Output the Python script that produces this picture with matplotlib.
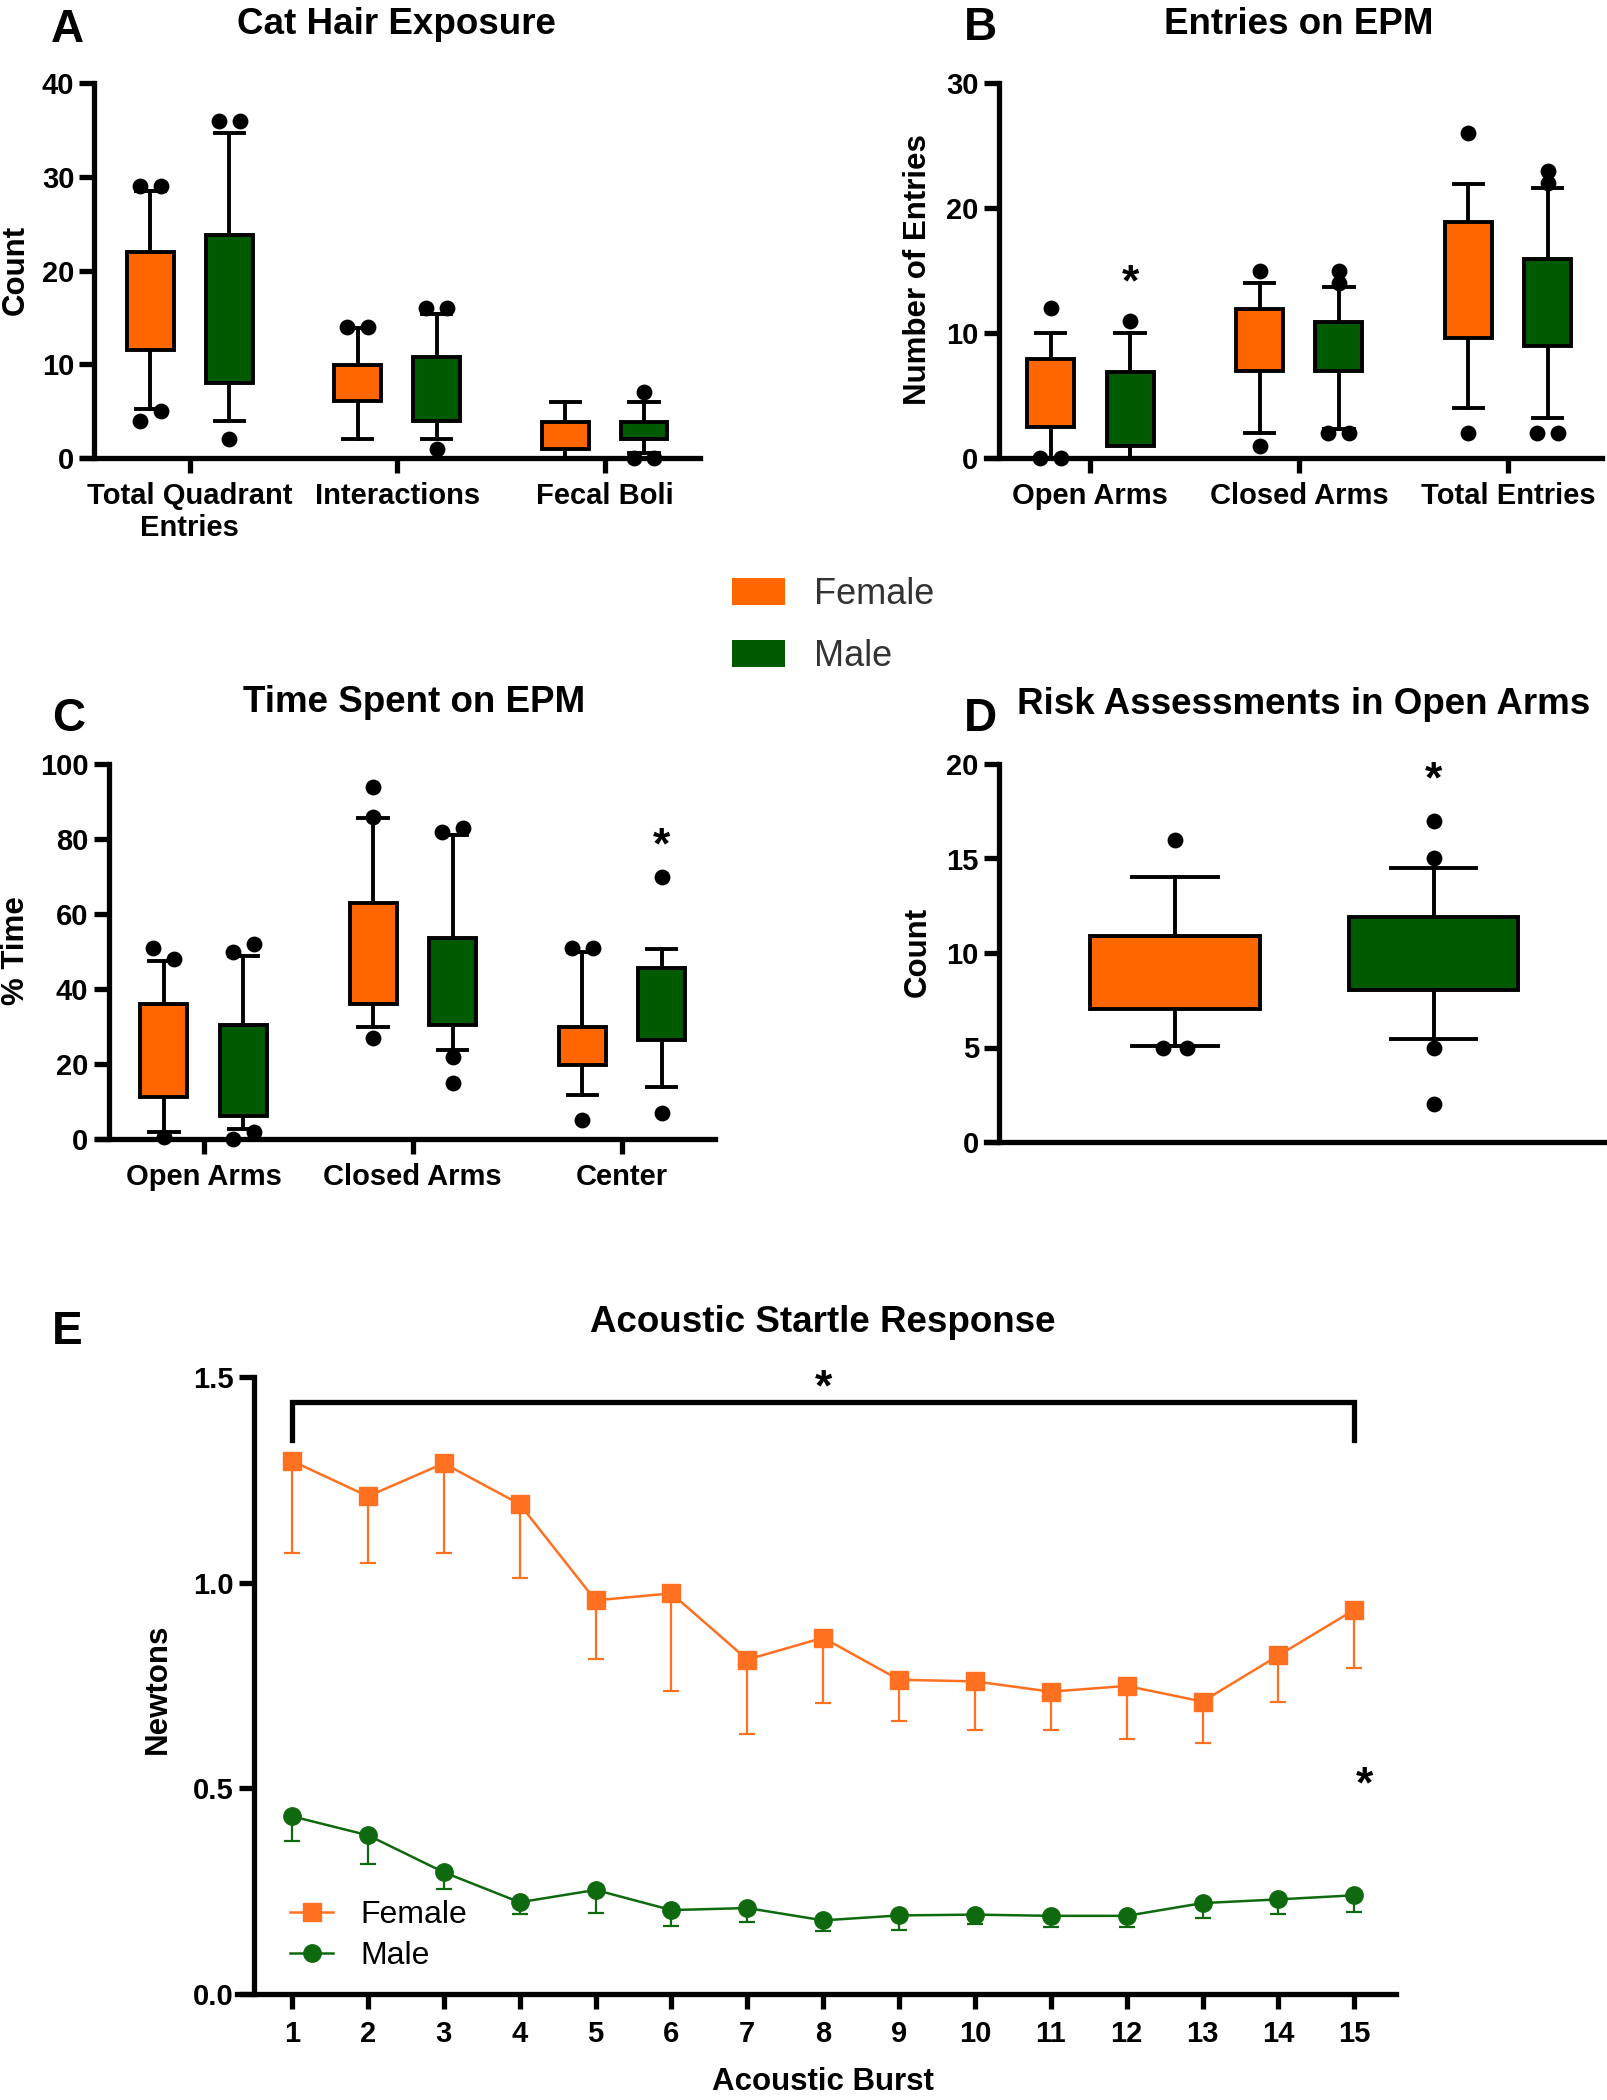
import numpy as np
import matplotlib
matplotlib.use("Agg")
import matplotlib.pyplot as plt
from matplotlib.patches import Patch
from matplotlib.lines import Line2D

plt.rcParams['font.family'] = ['Liberation Sans', 'DejaVu Sans']

ORANGE = "#ff6600"
GREEN = "#005a00"
E_ORANGE = "#ff7020"
E_GREEN = "#0f6a0f"

# box stats are (whisker low, q1, median, q3, whisker high)
# A - cat hair exposure
a_cats = ["Total Quadrant\nEntries", "Interactions", "Fecal Boli"]
a_female_box = [(5.2, 11.5, 18.0, 22.0, 28.5), (2.0, 6.1, 8.0, 9.9, 13.9), (0.0, 1.0, 1.9, 3.8, 6.0)]
a_female_out = [[29, 29, 4, 5], [14, 14], []]
a_male_box = [(3.9, 8.0, 15.0, 23.8, 34.7), (2.0, 4.0, 7.0, 10.8, 15.4), (0.5, 2.0, 3.0, 3.8, 6.0)]
a_male_out = [[36, 36, 2], [16, 16, 1], [7, 0, 0]]

# B - entries on EPM
b_cats = ["Open Arms", "Closed Arms", "Total Entries"]
b_female_box = [(0.0, 2.5, 6.0, 7.9, 10.0), (2.0, 7.0, 9.0, 11.9, 14.0), (4.0, 9.6, 16.0, 18.9, 21.9)]
b_female_out = [[12, 0, 0], [15, 1], [26, 2]]
b_male_box = [(0.0, 1.0, 3.0, 6.9, 10.0), (2.3, 7.0, 10.0, 10.9, 13.7), (3.2, 9.0, 12.0, 15.9, 21.6)]
b_male_out = [[11], [15, 14, 2, 2], [23, 22, 2, 2]]

# C - time spent on EPM
c_cats = ["Open Arms", "Closed Arms", "Center"]
c_female_box = [(2.0, 11.2, 28.0, 36.0, 47.5), (29.8, 36.0, 45.0, 63.0, 85.5), (11.8, 19.8, 24.8, 30.0, 49.9)]
c_female_out = [[51, 48, 0.5], [94, 86, 27], [51, 51, 5]]
c_male_box = [(2.6, 6.1, 15.5, 30.3, 48.9), (23.8, 30.5, 42.4, 53.7, 81.2), (13.8, 26.5, 39.3, 45.6, 50.8)]
c_male_out = [[50, 52, 0, 2], [82, 83, 22, 15], [70, 7]]

# D - risk assessments
d_female_box = (5.1, 7.05, 8.95, 10.9, 14.0)
d_female_out = [16, 5, 5]
d_male_box = (5.45, 8.05, 10.9, 11.9, 14.5)
d_male_out = [17, 15, 5, 2]

# E - acoustic startle
bursts = list(range(1, 16))
female_mean = [1.296, 1.210, 1.290, 1.191, 0.957, 0.974, 0.813, 0.866, 0.764, 0.760, 0.735, 0.749, 0.711, 0.823, 0.934]
female_sem = [0.224, 0.163, 0.218, 0.179, 0.143, 0.237, 0.181, 0.159, 0.100, 0.118, 0.093, 0.130, 0.101, 0.114, 0.142]
male_mean = [0.432, 0.386, 0.296, 0.223, 0.253, 0.204, 0.209, 0.179, 0.191, 0.193, 0.190, 0.190, 0.221, 0.230, 0.240]
male_sem = [0.059, 0.069, 0.041, 0.028, 0.055, 0.038, 0.033, 0.026, 0.035, 0.024, 0.028, 0.027, 0.037, 0.035, 0.040]

TITLE_FS = 26.5
LETTER_FS = 33
YLAB_FS = 22.5
TICK_FS = 21
CAT_FS = 22
STAR_FS = 32

W, H = 1607, 2100
fig = plt.figure(figsize=(W / 100, H / 100), dpi=100)


def add_axes(x0, y0, x1, y1):
    return fig.add_axes([x0 / W, 1 - y1 / H, (x1 - x0) / W, (y1 - y0) / H])


def ftext(x, y, s, **kw):
    fig.text(x / W, 1 - y / H, s, ha="center", va="center", **kw)


def style_axes(ax, yticks, ymax, yaxis_x, xlim):
    ax.set_xlim(*xlim)
    ax.set_ylim(0, ymax)
    for s in ("top", "right"):
        ax.spines[s].set_visible(False)
    ax.spines["left"].set_position(("data", yaxis_x))
    ax.spines["left"].set_linewidth(3.8)
    ax.spines["bottom"].set_linewidth(3.8)
    ax.spines["left"].set_capstyle("projecting")
    ax.set_yticks(yticks)
    ax.tick_params(axis="both", direction="out", length=11, width=3.8, labelsize=TICK_FS)
    ax.tick_params(axis="x", pad=6)
    for lab in ax.get_yticklabels():
        lab.set_fontweight("bold")
    ax.patch.set_alpha(0)


def draw_box(ax, x, box, outs, color, width, capw, thr, step):
    st = dict(whislo=box[0], q1=box[1], med=box[2], q3=box[3], whishi=box[4])
    lw = 2.8
    res = ax.bxp([st], positions=[x], widths=width, capwidths=capw, showfliers=False,
                 patch_artist=True, manage_ticks=False,
                 boxprops=dict(facecolor=color, edgecolor="black", linewidth=lw),
                 medianprops=dict(color="black", linewidth=lw),
                 whiskerprops=dict(color="black", linewidth=lw),
                 capprops=dict(color="black", linewidth=lw))
    for b in res["boxes"]:
        b.set_zorder(3)
    # outliers, spread sideways when they sit on top of each other
    above = [v for v in outs if v > box[2]]
    below = [v for v in outs if v <= box[2]]
    xs, ys = [], []
    for grp in (above, below):
        clusters = []
        for v in grp:
            if clusters and abs(v - clusters[-1][-1]) < thr:
                clusters[-1].append(v)
            else:
                clusters.append([v])
        for cl in clusters:
            n = len(cl)
            for i, v in enumerate(cl):
                xs.append(x + (i - (n - 1) / 2) * step)
                ys.append(v)
    ax.scatter(xs, ys, s=130, color="black", zorder=5, clip_on=False, linewidths=0)


def box_panel(ax, cats, fbox, fout, mbox, mout, ymax):
    pos = np.arange(len(cats))
    for i in pos:
        draw_box(ax, i - 0.19, fbox[i], fout[i], ORANGE, 0.225, 0.14, 0.031 * ymax, 0.1)
        draw_box(ax, i + 0.19, mbox[i], mout[i], GREEN, 0.225, 0.14, 0.031 * ymax, 0.1)
    ax.set_xticks(pos)
    ax.set_xticklabels(cats, fontsize=CAT_FS, fontweight="bold", linespacing=1.2)


# ---- A ----
axA = add_axes(82, 83, 700, 458)
box_panel(axA, a_cats, a_female_box, a_female_out, a_male_box, a_male_out, 40)
style_axes(axA, [0, 10, 20, 30, 40], 40, -0.46, (-0.52, 2.46))
ftext(396, 25, "Cat Hair Exposure", fontsize=TITLE_FS, fontweight="bold")
ftext(67, 30, "A", fontsize=LETTER_FS, fontweight="bold")
ftext(16, 270, "Count", fontsize=YLAB_FS, fontweight="bold", rotation=90)

# ---- B ----
axB = add_axes(986, 83, 1602, 458)
box_panel(axB, b_cats, b_female_box, b_female_out, b_male_box, b_male_out, 30)
style_axes(axB, [0, 10, 20, 30], 30, -0.44, (-0.50, 2.45))
axB.text(0.19, 13.9, "*", ha="center", va="center", fontsize=STAR_FS, fontweight="bold")
ftext(1299, 25, "Entries on EPM", fontsize=TITLE_FS, fontweight="bold")
ftext(980, 28, "B", fontsize=LETTER_FS, fontweight="bold")
ftext(918, 270, "Number of Entries", fontsize=YLAB_FS, fontweight="bold", rotation=90)

# ---- C ----
axC = add_axes(97, 764, 715, 1139)
box_panel(axC, c_cats, c_female_box, c_female_out, c_male_box, c_male_out, 100)
style_axes(axC, [0, 20, 40, 60, 80, 100], 100, -0.455, (-0.51, 2.445))
axC.text(2.19, 78, "*", ha="center", va="center", fontsize=STAR_FS, fontweight="bold")
ftext(414, 703, "Time Spent on EPM", fontsize=TITLE_FS, fontweight="bold")
ftext(69, 719, "C", fontsize=LETTER_FS, fontweight="bold")
ftext(16, 951, "% Time", fontsize=YLAB_FS, fontweight="bold", rotation=90)

# ---- D ----
axD = add_axes(986, 764, 1607, 1142)
draw_box(axD, 0, d_female_box, d_female_out, ORANGE, 0.655, 0.33, 0.031 * 20, 0.09)
draw_box(axD, 1, d_male_box, d_male_out, GREEN, 0.655, 0.33, 0.031 * 20, 0.09)
style_axes(axD, [0, 5, 10, 15, 20], 20, -0.68, (-0.73, 1.67))
axD.set_xticks([])
axD.text(1, 19.1, "*", ha="center", va="center", fontsize=STAR_FS, fontweight="bold")
ftext(1304, 705, "Risk Assessments in Open Arms", fontsize=TITLE_FS, fontweight="bold")
ftext(980, 719, "D", fontsize=LETTER_FS, fontweight="bold")
ftext(918, 952, "Count", fontsize=YLAB_FS, fontweight="bold", rotation=90)

# legend for the box panels
fig.legend(handles=[Patch(facecolor=ORANGE, edgecolor="none"), Patch(facecolor=GREEN, edgecolor="none")],
           labels=["Female", "Male"], loc="upper left", bbox_to_anchor=(714 / W, 1 - 559 / H),
           frameon=False, fontsize=26, handlelength=1.47, handleheight=0.78,
           handletextpad=0.8, labelspacing=0.75, borderpad=0, labelcolor="#333333")

# ---- E ----
axE = add_axes(237, 1377, 1396, 1994)
axE.errorbar(bursts, female_mean, yerr=[female_sem, np.zeros(len(bursts))], fmt="none",
             ecolor=E_ORANGE, elinewidth=1.6, capsize=6, capthick=1.6, zorder=2)
axE.errorbar(bursts, male_mean, yerr=[male_sem, np.zeros(len(bursts))], fmt="none",
             ecolor=E_GREEN, elinewidth=1.6, capsize=6, capthick=1.6, zorder=2)
axE.plot(bursts, female_mean, color=E_ORANGE, lw=1.8, marker="s", ms=12.5, zorder=3, label="Female")
axE.plot(bursts, male_mean, color=E_GREEN, lw=1.8, marker="o", ms=12.5, zorder=3, label="Male")
style_axes(axE, [0.0, 0.5, 1.0, 1.5], 1.5, 0.5, (0.275, 15.55))
axE.set_yticklabels(["0.0", "0.5", "1.0", "1.5"], fontweight="bold")
axE.set_xticks(bursts)
axE.set_xticklabels([str(b) for b in bursts], fontsize=TICK_FS, fontweight="bold")
axE.tick_params(axis="x", pad=8)
axE.plot([1, 1, 15, 15], [1.347, 1.439, 1.439, 1.347], color="black", lw=3.8, clip_on=False,
         solid_joinstyle="miter")
axE.text(8, 1.472, "*", ha="center", va="center", fontsize=STAR_FS, fontweight="bold")
axE.text(15.14, 0.507, "*", ha="center", va="center", fontsize=STAR_FS, fontweight="bold")
axE.legend(handles=[Line2D([], [], color=E_ORANGE, marker="s", ms=12.5, lw=1.8),
                    Line2D([], [], color=E_GREEN, marker="o", ms=12.5, lw=1.8)],
           labels=["Female", "Male"], loc="upper left", bbox_to_anchor=(0.032, 0.178),
           frameon=False, fontsize=23, handlelength=1.35, handletextpad=0.84,
           labelspacing=0.35, borderpad=0)
ftext(823, 1322, "Acoustic Startle Response", fontsize=TITLE_FS, fontweight="bold")
ftext(67, 1332, "E", fontsize=LETTER_FS, fontweight="bold")
ftext(158, 1689, "Newtons", fontsize=YLAB_FS, fontweight="bold", rotation=90)
ftext(823, 2082, "Acoustic Burst", fontsize=YLAB_FS, fontweight="bold")

fig.savefig("out.png", dpi=100)
